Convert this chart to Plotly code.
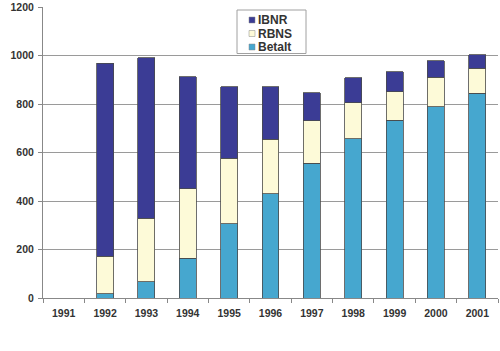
import plotly.graph_objects as go

years = ["1991", "1992", "1993", "1994", "1995", "1996", "1997", "1998", "1999", "2000", "2001"]
betalt = [0, 18, 68, 163, 307, 429, 556, 656, 734, 788, 845]
rbns = [0, 155, 260, 288, 269, 225, 175, 149, 116, 123, 103]
ibnr = [0, 795, 662, 462, 295, 217, 115, 103, 84, 68, 56]

series_names = ["IBNR", "RBNS", "Betalt"]
colors = {"Betalt": "#46a7cf", "RBNS": "#fdfad8", "IBNR": "#3b3c95"}

line = dict(color="#4a4a4a", width=0.8)
fig = go.Figure()
fig.add_trace(go.Bar(x=years, y=betalt, name="Betalt", marker=dict(color=colors["Betalt"], line=line)))
fig.add_trace(go.Bar(x=years, y=rbns, name="RBNS", marker=dict(color=colors["RBNS"], line=line)))
fig.add_trace(go.Bar(x=years, y=ibnr, name="IBNR", marker=dict(color=colors["IBNR"], line=line)))

# plot area in pixels: x 43..498, y 7..298
L, R, T, B = 43, 498, 7, 298
def px(x):
    return (x - L) / (R - L)
def py(y):
    return (B - y) / (B - T)

shapes = [dict(type="rect", xref="paper", yref="paper",
               x0=px(237), x1=px(306), y0=py(53.5), y1=py(10),
               line=dict(color="#a0a0a0", width=1), fillcolor="white", layer="above")]
annotations = []
for i, nm in enumerate(series_names):
    cy = 20 + 13.5 * i
    shapes.append(dict(type="rect", xref="paper", yref="paper",
                       x0=px(249), x1=px(255), y0=py(cy + 3), y1=py(cy - 3),
                       line=dict(color="#888888", width=0.5), fillcolor=colors[nm], layer="above"))
    annotations.append(dict(xref="paper", yref="paper", x=px(256), y=py(cy),
                            xanchor="left", yanchor="middle", showarrow=False, text="<b>%s</b>" % nm,
                            font=dict(size=12, color="#333333", family="Arial, Liberation Sans, sans-serif")))

fig.update_layout(
    barmode="stack",
    bargap=0.59,
    width=500, height=351,
    margin=dict(l=L, r=500 - R, t=T, b=351 - B),
    paper_bgcolor="white", plot_bgcolor="white",
    font=dict(family="Arial, Liberation Sans, sans-serif", size=10, color="#333333"),
    showlegend=False,
    shapes=shapes,
    annotations=annotations,
    xaxis=dict(
        type="category",
        showline=True, linecolor="#888888", linewidth=1,
        ticks="outside", tickson="boundaries", ticklen=4, tickcolor="#888888",
        tickfont=dict(size=10.5, color="#333333", weight="bold"),
        ticklabelstandoff=5,
        showgrid=False,
    ),
    yaxis=dict(
        range=[0, 1200], dtick=200,
        showline=True, linecolor="#888888", linewidth=1,
        ticks="outside", ticklen=4, tickcolor="#888888",
        tickfont=dict(size=10.5, color="#333333", weight="bold"),
        ticklabelstandoff=2,
        showgrid=True, gridcolor="#9a9a9a", gridwidth=1,
        zeroline=False,
    ),
)
fig.write_html("out.html")
